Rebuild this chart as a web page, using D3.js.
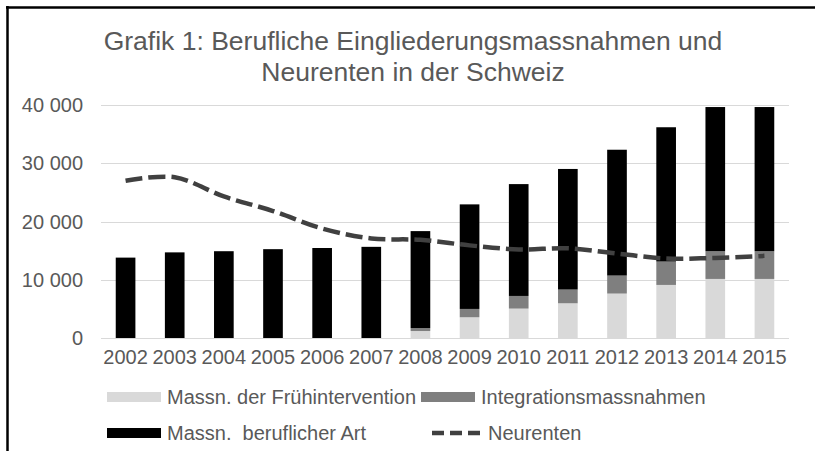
<!DOCTYPE html>
<html>
<head>
<meta charset="utf-8">
<script src="https://cdn.jsdelivr.net/npm/d3@7"></script>
<style>
  body { margin: 0; background: #fff; }
  svg { display: block; font-family: "Liberation Sans", Arial, sans-serif; }
</style>
</head>
<body>
<svg></svg>
<script>
// Berufliche Eingliederungsmassnahmen und Neurenten

var years = ["2002", "2003", "2004", "2005", "2006", "2007", "2008",
             "2009", "2010", "2011", "2012", "2013", "2014", "2015"];
var fruehintervention = [0, 0, 0, 0, 0, 0, 1200, 3560, 5050, 5960, 7630, 9110, 10140, 10140];
var integration = [0, 0, 0, 0, 0, 0, 500, 1430, 2170, 2360, 3090, 4020, 4760, 4760];
var beruflich = [13800, 14700, 14900, 15250, 15450, 15650, 16650, 17950, 19200, 20700, 21600, 23050, 24750, 24750];
var neurenten = [27000, 27600, 24300, 21800, 18800, 17100, 16850, 15900, 15200, 15400, 14500, 13650, 13750, 14100];
var yTicks = [0, 10000, 20000, 30000, 40000];
var seriesNames = ["Massn. der Frühintervention", "Integrationsmassnahmen", "Massn.  beruflicher Art", "Neurenten"];

var width = 815;
var height = 451;
var textColor = "#595959";
var barColors = ["#d9d9d9", "#7f7f7f", "#000000"];
var lineColor = "#404040";

var svg = d3.select("svg")
  .attr("width", width)
  .attr("height", height);

// frame (top + left only, like the screenshot)
svg.append("line")
  .attr("x1", 6).attr("x2", width).attr("y1", 7.5).attr("y2", 7.5)
  .attr("stroke", "#000").attr("stroke-width", 2.5);
svg.append("line")
  .attr("x1", 7.5).attr("x2", 7.5).attr("y1", 6).attr("y2", height)
  .attr("stroke", "#000").attr("stroke-width", 2.5);

// title
svg.append("text")
  .attr("x", 413)
  .attr("y", 50)
  .attr("text-anchor", "middle")
  .attr("fill", textColor)
  .style("font-size", "26.5px")
  .text("Grafik 1: Berufliche Eingliederungsmassnahmen und");
svg.append("text")
  .attr("x", 413)
  .attr("y", 81)
  .attr("text-anchor", "middle")
  .attr("fill", textColor)
  .style("font-size", "26.5px")
  .text("Neurenten in der Schweiz");

var x = d3.scaleBand()
  .domain(years)
  .range([101, 789])
  .paddingInner(0.6)
  .paddingOuter(0.3);

var y = d3.scaleLinear()
  .domain([0, 40000])
  .range([338, 105]);

// gridlines
svg.append("g")
  .selectAll("line")
  .data(yTicks)
  .enter()
  .append("line")
    .attr("x1", 101)
    .attr("x2", 789)
    .attr("y1", d => Math.round(y(d)) + 0.5)
    .attr("y2", d => Math.round(y(d)) + 0.5)
    .attr("stroke", "#d9d9d9")
    .attr("stroke-width", 1);

// y labels
svg.append("g")
  .selectAll("text")
  .data(yTicks)
  .enter()
  .append("text")
    .attr("x", 83)
    .attr("y", d => y(d))
    .attr("dy", "0.35em")
    .attr("text-anchor", "end")
    .attr("fill", textColor)
    .style("font-size", "20px")
    .text(d => d3.format(",")(d).replace(/,/g, " "));

// x labels
svg.append("g")
  .selectAll("text")
  .data(years)
  .enter()
  .append("text")
    .attr("x", d => x(d) + x.bandwidth() / 2)
    .attr("y", 357)
    .attr("dy", "0.35em")
    .attr("text-anchor", "middle")
    .attr("fill", textColor)
    .style("font-size", "20px")
    .text(d => d);

// stacked bars
var table = years.map((yr, i) => ({
  year: yr,
  f: fruehintervention[i],
  i: integration[i],
  b: beruflich[i]
}));
var stack = d3.stack().keys(["f", "i", "b"]);
var layers = stack(table);

svg.append("g")
  .selectAll("g")
  .data(layers)
  .enter()
  .append("g")
    .attr("fill", (d, i) => barColors[i])
  .selectAll("rect")
  .data(d => d)
  .enter()
  .append("rect")
    .attr("x", d => x(d.data.year))
    .attr("width", x.bandwidth())
    .attr("y", d => y(d[1]))
    .attr("height", d => y(d[0]) - y(d[1]));

// Neurenten line, smoothed like excel
var line = d3.line()
  .x((d, i) => x(years[i]) + x.bandwidth() / 2)
  .y(d => y(d))
  .curve(d3.curveCatmullRom);

svg.append("path")
  .datum(neurenten)
  .attr("d", line)
  .attr("fill", "none")
  .attr("stroke", lineColor)
  .attr("stroke-width", 4.5)
  .attr("stroke-dasharray", "17,6");

// legend
var legendItems = [
  { name: seriesNames[0], kind: "rect", color: barColors[0], x: 107, y: 397 },
  { name: seriesNames[1], kind: "rect", color: barColors[1], x: 421, y: 397 },
  { name: seriesNames[2], kind: "rect", color: barColors[2], x: 107, y: 433 },
  { name: seriesNames[3], kind: "line", color: lineColor, x: 432, y: 433 }
];

var legend = svg.append("g")
  .selectAll("g")
  .data(legendItems)
  .enter()
  .append("g")
    .attr("transform", d => "translate(" + d.x + "," + d.y + ")");

legend.filter(d => d.kind === "rect")
  .append("rect")
    .attr("x", 0)
    .attr("y", -5)
    .attr("width", 54)
    .attr("height", 10)
    .attr("fill", d => d.color);

legend.filter(d => d.kind === "line")
  .append("line")
    .attr("x1", 0)
    .attr("x2", 48)
    .attr("y1", 0)
    .attr("y2", 0)
    .attr("stroke", d => d.color)
    .attr("stroke-width", 4.5)
    .attr("stroke-dasharray", "12,6");

legend.append("text")
  .attr("x", d => d.kind === "rect" ? 60 : 56)
  .attr("y", 0)
  .attr("dy", "0.35em")
  .attr("fill", textColor)
  .style("font-size", "20px")
  .style("white-space", "pre")
  .attr("xml:space", "preserve")
  .text(d => d.name);
</script>
</body>
</html>
